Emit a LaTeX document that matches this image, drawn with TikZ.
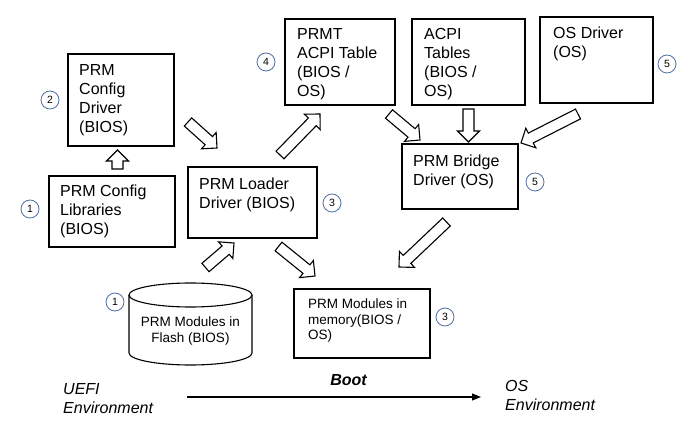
\documentclass[tikz,border=0pt]{standalone}
\usepackage{fontspec}
\setmainfont{Liberation Sans}
\usetikzlibrary{calc,arrows.meta}
\definecolor{numblue}{RGB}{80,112,165}
\newcommand\myblockarrow[2]{%
  \coordinate (hbA) at ($(#2)!11pt!(#1)$);
  \draw[blockarrow] ($(#1)!5.5pt!90:(#2)$) -- ($(hbA)!5.5pt!90:(#2)$) -- ($(hbA)!11pt!90:(#2)$) -- (#2)
    -- ($(hbA)!11pt!-90:(#2)$) -- ($(hbA)!5.5pt!-90:(#2)$) -- ($(#1)!5.5pt!-90:(#2)$) -- cycle;}
\tikzset{
  box/.style={draw, line width=1.1pt, inner sep=0},
  boxtext/.style={anchor=north west, inner sep=0, align=left, font=\fontsize{16}{19}\selectfont},
  smalltext/.style={inner sep=0, font=\fontsize{13.5}{15.5}\selectfont},
  num/.style={circle, draw=numblue, line width=0.8pt, minimum size=18pt, inner sep=0, font=\fontsize{10.5}{10.5}\selectfont},
  blockarrow/.style={draw, line width=1.1pt, fill=white, line join=miter},
  envtext/.style={anchor=north west, inner sep=0, align=left, font=\fontsize{16}{19}\selectfont\itshape},
}
\begin{document}
\begin{tikzpicture}[x=1pt,y=-1pt]
\fill[white] (0,0) rectangle (688,430);
\useasboundingbox (0,0) rectangle (688,430);

% boxes
\node[box, minimum width=106pt, minimum height=92pt] (cfgdrv) at (121,100) {};
\node[box, minimum width=126pt, minimum height=71pt] (cfglib) at (112,211.5) {};
\node[box, minimum width=129pt, minimum height=71pt] (loader) at (252.5,202.5) {};
\node[box, minimum width=110pt, minimum height=86pt] (prmt) at (340,62) {};
\node[box, minimum width=113pt, minimum height=86pt] (acpi) at (468.5,62) {};
\node[box, minimum width=113pt, minimum height=86pt] (osdrv) at (596.5,60) {};
\node[box, minimum width=116pt, minimum height=65pt] (bridge) at (460,176.5) {};
\node[box, minimum width=136pt, minimum height=69pt] (mem) at (362,323.5) {};

% box texts
\node[boxtext] (cfgdrvT) at (79,64) {PRM\\Config\\Driver\\(BIOS)};
\node[boxtext] (cfglibT) at (60,185) {PRM Config\\Libraries\\(BIOS)};
\node[boxtext] (loaderT) at (199,178) {PRM Loader\\Driver (BIOS)};
\node[boxtext] (prmtT) at (297,28) {PRMT\\ACPI Table\\(BIOS /\\OS)};
\node[boxtext] (acpiT) at (424,28) {ACPI\\Tables\\(BIOS /\\OS)};
\node[boxtext] (osdrvT) at (553,27) {OS Driver\\(OS)};
\node[boxtext] (bridgeT) at (413,155) {PRM Bridge\\Driver (OS)};
\node[smalltext, anchor=north west, align=left] (memT) at (308,299) {PRM Modules in\\memory(BIOS /\\OS)};

% cylinder
\node[inner sep=0, minimum width=123pt, minimum height=82pt] (flash) at (190.5,324) {};
\draw[line width=1.1pt, fill=white] (129,295) -- (129,353) arc[start angle=180, end angle=360, x radius=61.5pt, y radius=12pt] -- (252,295);
\draw[line width=1.1pt] (190.5,295) ellipse[x radius=61.5pt, y radius=12pt];
\node[smalltext, align=center, anchor=north] (flashT) at (190.5,317) {PRM Modules in\\Flash (BIOS)};

% numbers
\node[num] (n2) at (50,100) {2};
\node[num] (n1a) at (30,209) {1};
\node[num] (n3a) at (332,203) {3};
\node[num] (n4) at (266,62) {4};
\node[num] (n5a) at (667,64) {5};
\node[num] (n5b) at (535,182) {5};
\node[num] (n1b) at (115,302) {1};
\node[num] (n3b) at (445,317) {3};

% block arrow end points
\coordinate (a1t) at (117.5,169); \coordinate (a1h) at (117.5,150);
\coordinate (a2t) at (188,122);   \coordinate (a2h) at (217,148);
\coordinate (a3t) at (280,155);   \coordinate (a3h) at (320,114);
\coordinate (a4t) at (389,114);   \coordinate (a4h) at (420,140);
\coordinate (a5t) at (468.5,109); \coordinate (a5h) at (468.5,142);
\coordinate (a6t) at (578,114);   \coordinate (a6h) at (521,143);
\coordinate (a7t) at (205.5,267.5); \coordinate (a7h) at (234,243);
\coordinate (a8t) at (278.5,246.5); \coordinate (a8h) at (315,276);
\coordinate (a9t) at (446.5,222); \coordinate (a9h) at (399,267);

\myblockarrow{a1t}{a1h}
\myblockarrow{a2t}{a2h}
\myblockarrow{a3t}{a3h}
\myblockarrow{a4t}{a4h}
\myblockarrow{a5t}{a5h}
\myblockarrow{a6t}{a6h}
\myblockarrow{a7t}{a7h}
\myblockarrow{a8t}{a8h}
\myblockarrow{a9t}{a9h}

% environment labels
\node[envtext] (uefi) at (63,383) {UEFI\\Environment};
\node[envtext] (osenv) at (505,380) {OS\\Environment};
\node[inner sep=0, anchor=base, font=\fontsize{16}{19}\selectfont\bfseries\itshape] (boot) at (348.5,385) {Boot};
\coordinate (bootS) at (187,397);
\coordinate (bootE) at (481,397);
\draw[line width=1.1pt, -{Triangle[length=9pt,width=7pt]}] (bootS) -- (bootE);
\end{tikzpicture}
\end{document}
